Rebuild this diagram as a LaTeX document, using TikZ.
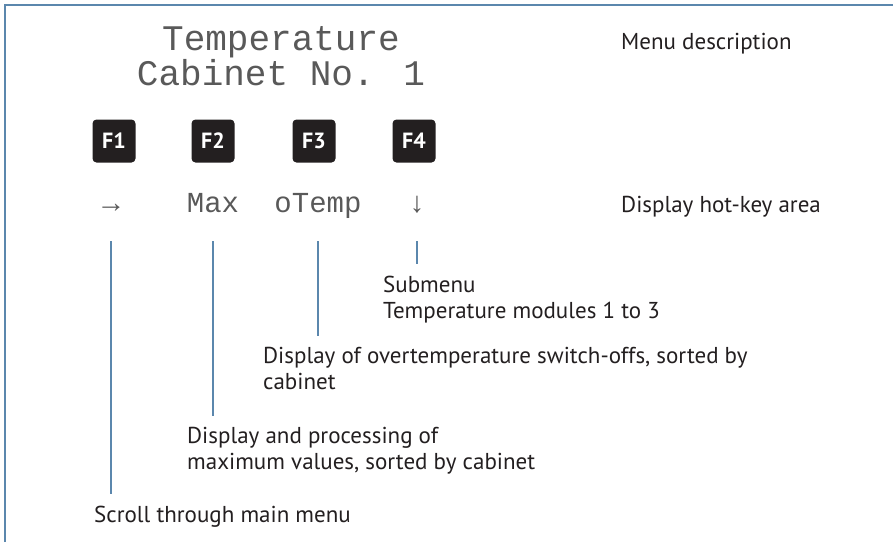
\documentclass[tikz,border=0pt]{standalone}
\usepackage{fontspec}
\setmainfont{PT Sans}
\newfontfamily\lcdfont{Liberation Mono}
\definecolor{frameblue}{HTML}{5B87AD}
\definecolor{inkgray}{HTML}{231F20}
\begin{document}
\begin{tikzpicture}[
        x=1pt, y=-1pt,
        desc/.style     ={anchor=base west, inner sep=0pt, align=left, text=inkgray,
                          font=\fontsize{23}{26}\selectfont},
        lcd title/.style={anchor=base, inner sep=0pt, align=center, text=black!65,
                          font=\lcdfont\fontsize{36}{31}\selectfont},
        lcd key/.style  ={anchor=base, inner sep=0pt, text=black!65,
                          font=\lcdfont\fontsize{29}{29}\selectfont},
        fk box/.style   ={fill=inkgray, rounded corners=4pt, minimum width=43pt,
                          minimum height=43pt, inner sep=0pt, text=white,
                          font=\bfseries\fontsize{22}{22}\selectfont},
        hk line/.style  ={draw=frameblue, line width=2pt},
        frame line/.style={draw=frameblue, line width=1.6pt}
    ]
    \useasboundingbox (0,0) rectangle (893,542);
    %% --- frame ---------------------------------------------------------------
    \draw[frame line] (5,542) -- (5,5) -- (893,5);
    %% --- display text (base = last line) -------------------------------------
    \node[lcd title] (title) at (281,85) {Temperature\\Cabinet No. 1};
    %% --- function keys and hot-key area --------------------------------------
    \foreach \i/\x in {1/114, 2/213, 3/314, 4/414} {
            \node[fk box] (F\i) at (\x,141) {F\i};
        }
    \node[lcd key] (hk1) at (111,212) {→};
    \node[lcd key] (hk2) at (213,212) {Max};
    \node[lcd key] (hk3) at (318,212) {oTemp};
    \node[lcd key] (hk4) at (417,212) {↓};
    %% --- descriptions (base = last line) -------------------------------------
    \node[desc] (dMenu)   at (621,49)  {Menu description};
    \node[desc] (dHot)    at (621,212) {Display hot-key area};
    \node[desc] (dSub)    at (383,318) {Submenu\\Temperature modules 1 to 3};
    \node[desc] (dOver)   at (263,389) {Display of overtemperature switch-offs, sorted by\\cabinet};
    \node[desc] (dMax)    at (187,469) {Display and processing of\\maximum values, sorted by cabinet};
    \node[desc] (dScroll) at (94,522)  {Scroll through main menu};
    %% --- connectors ----------------------------------------------------------
    \coordinate (ltop) at (0,241);
    \foreach \k/\d in {hk1/dScroll, hk2/dMax, hk3/dOver, hk4/dSub} {
            \draw[hk line] (\k |- ltop) -- ([yshift=11pt]\d.north -| \k);
        }
\end{tikzpicture}
\end{document}
